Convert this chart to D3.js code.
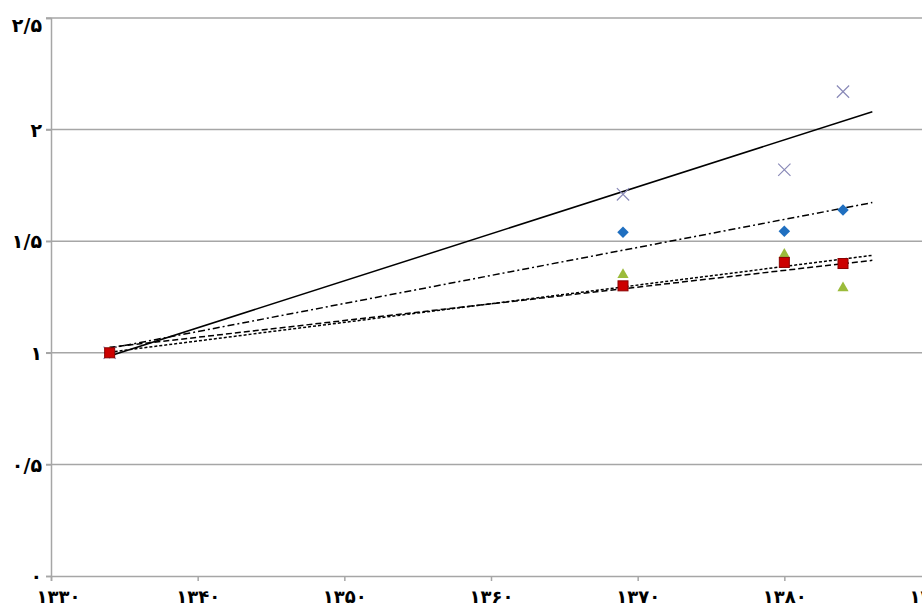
<!DOCTYPE html>
<html>
<head>
<meta charset="utf-8">
<script src="https://cdn.jsdelivr.net/npm/d3@7"></script>
<style>
  body { margin: 0; background: #fff; }
  svg text { font-family: "DejaVu Sans", sans-serif; font-weight: bold; fill: #000; }
</style>
</head>
<body>
<div class="chart"></div>
<script>
// census years and index values (first year = 1)
var years = [1334, 1369, 1380, 1384];
var diamondVals = [1, 1.54, 1.545, 1.64];
var triangleVals = [1, 1.35, 1.44, 1.29];
var squareVals = [1, 1.30, 1.405, 1.40];
var crossVals = [1, 1.71, 1.82, 2.17];

var xTicks = [1330, 1340, 1350, 1360, 1370, 1380, 1390];
var yTicks = [0, 0.5, 1, 1.5, 2, 2.5];
var trendEnd = 1386;

var w = 922, h = 608;

var x = d3.scaleLinear().domain([1330, 1390]).range([51, 931]);
var y = d3.scaleLinear().domain([0, 2.5]).range([576, 18]);

function fa(v) {
  var s = String(v).replace(".", "/");
  return s.replace(/[0-9]/g, function(c) { return "۰۱۲۳۴۵۶۷۸۹"[+c]; });
}

var svg = d3.select(".chart")
            .append("svg")
            .attr("width", w)
            .attr("height", h);

// gridlines
svg.append("g")
   .selectAll("line")
   .data(yTicks.slice(1))
   .enter()
   .append("line")
   .attr("x1", 46)
   .attr("x2", w)
   .attr("y1", function(d) { return y(d); })
   .attr("y2", function(d) { return y(d); })
   .attr("stroke", "#a6a6a6")
   .attr("stroke-width", 1.5);

// y axis
var yAxis = svg.append("g")
   .attr("transform", "translate(51,0)")
   .call(d3.axisLeft(y).tickValues(yTicks).tickSize(5).tickFormat(fa));
yAxis.select(".domain").attr("stroke", "#a6a6a6").attr("stroke-width", 1.5);
yAxis.selectAll(".tick line").attr("stroke", "#a6a6a6").attr("stroke-width", 1.5);
yAxis.selectAll(".tick text")
     .attr("x", -9)
     .attr("dy", function(d) { return d == 2.5 ? "0.7em" : "0.35em"; })
     .style("font-size", "19px");

// x axis
var xAxis = svg.append("g")
   .attr("transform", "translate(0,576)")
   .call(d3.axisBottom(x).tickValues(xTicks).tickSize(5).tickFormat(fa));
xAxis.select(".domain").attr("stroke", "#a6a6a6").attr("stroke-width", 1.5);
xAxis.selectAll(".tick line").attr("stroke", "#a6a6a6").attr("stroke-width", 1.5);
xAxis.selectAll(".tick text")
     .attr("y", 14)
     .attr("dx", function(d) { return d == 1330 ? 7 : 0; })
     .style("font-size", "18px");

// series
var series = [
  { name: "diamond", vals: diamondVals, dash: "7,3,2,3" },
  { name: "triangle", vals: triangleVals, dash: "6,3" },
  { name: "square", vals: squareVals, dash: "3,2" },
  { name: "cross", vals: crossVals, dash: null }
];

// least squares trend line
function trend(vals) {
  var mx = d3.mean(years), my = d3.mean(vals);
  var sxy = d3.sum(years, function(d, i) { return (d - mx) * (vals[i] - my); });
  var sxx = d3.sum(years, function(d) { return (d - mx) * (d - mx); });
  var b = sxy / sxx;
  return [years[0], trendEnd].map(function(t) { return [t, my + b * (t - mx)]; });
}

var line = d3.line()
             .x(function(d) { return x(d[0]); })
             .y(function(d) { return y(d[1]); });

svg.append("g")
   .selectAll("path")
   .data(series)
   .enter()
   .append("path")
   .attr("d", function(s) { return line(trend(s.vals)); })
   .attr("fill", "none")
   .attr("stroke", "#000")
   .attr("stroke-width", 1.5)
   .attr("stroke-dasharray", function(s) { return s.dash; });

// markers
var pts = svg.append("g");

pts.selectAll(".cr")
   .data(crossVals)
   .enter()
   .append("path")
   .attr("d", d3.symbol().type(d3.symbolX).size(100))
   .attr("transform", function(d, i) { return "translate(" + x(years[i]) + "," + y(d) + ")"; })
   .attr("fill", "none")
   .attr("stroke", "#8a8ab8")
   .attr("stroke-width", 1.2);

pts.selectAll(".dia")
   .data(diamondVals)
   .enter()
   .append("path")
   .attr("d", d3.symbol().type(d3.symbolDiamond2).size(85))
   .attr("transform", function(d, i) { return "translate(" + x(years[i]) + "," + y(d) + ")"; })
   .attr("fill", "#1f6fc0");

pts.selectAll(".tri")
   .data(triangleVals)
   .enter()
   .append("path")
   .attr("d", d3.symbol().type(d3.symbolTriangle2).size(90))
   .attr("transform", function(d, i) { return "translate(" + x(years[i]) + "," + y(d) + ")"; })
   .attr("fill", "#9bbb3b");

pts.selectAll(".sq")
   .data(squareVals)
   .enter()
   .append("rect")
   .attr("x", function(d, i) { return x(years[i]) - 5; })
   .attr("y", function(d) { return y(d) - 5; })
   .attr("width", 10)
   .attr("height", 10)
   .attr("fill", "#cc0000")
   .attr("stroke", "#8b0000")
   .attr("stroke-width", 1);
</script>
</body>
</html>
